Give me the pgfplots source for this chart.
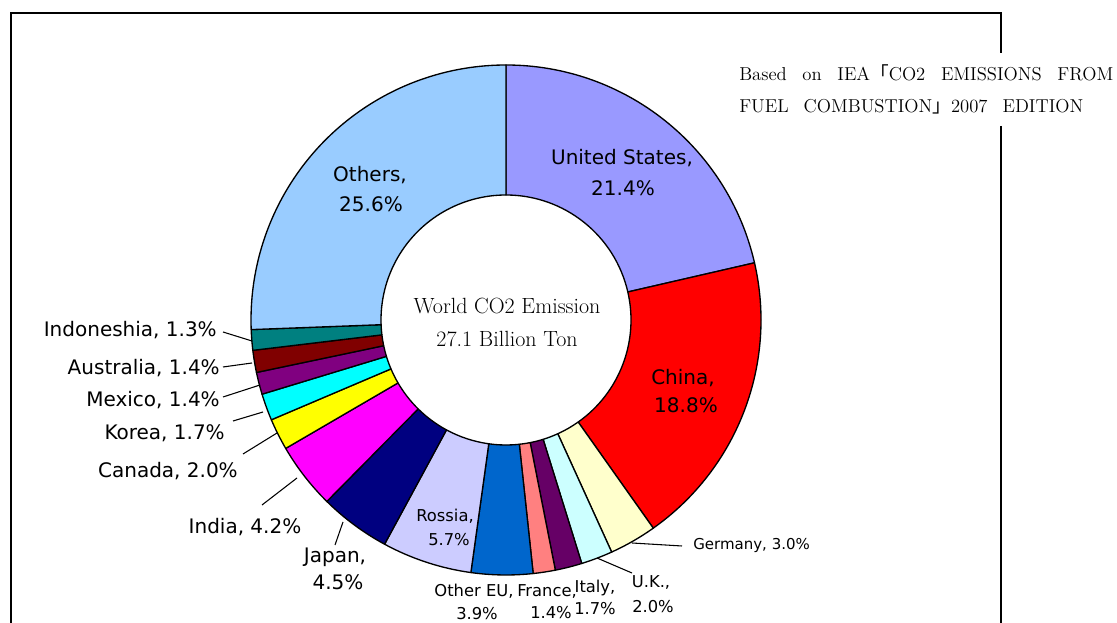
\documentclass[border=0pt]{standalone}
\usepackage{pgfplots}
\pgfplotsset{compat=1.18}
\usepackage{fontspec}
\newfontfamily\lab{DejaVu Sans}
\newfontfamily\cjk{Noto Sans CJK JP}
\definecolor{cUS}{HTML}{9999FF}
\definecolor{cCN}{HTML}{FF0000}
\definecolor{cDE}{HTML}{FFFFCC}
\definecolor{cUK}{HTML}{CCFFFF}
\definecolor{cIT}{HTML}{660066}
\definecolor{cFR}{HTML}{FF8080}
\definecolor{cEU}{HTML}{0066CC}
\definecolor{cRU}{HTML}{CCCCFF}
\definecolor{cJP}{HTML}{000080}
\definecolor{cIN}{HTML}{FF00FF}
\definecolor{cCA}{HTML}{FFFF00}
\definecolor{cKR}{HTML}{00FFFF}
\definecolor{cMX}{HTML}{800080}
\definecolor{cAU}{HTML}{800000}
\definecolor{cID}{HTML}{008080}
\definecolor{cOT}{HTML}{99CCFF}
\newcommand\Lf{\lab\fontsize{15pt}{18pt}\selectfont}
\newcommand\Rf{\lab\fontsize{12.25pt}{14pt}\selectfont}
\newcommand\Mf{\lab\fontsize{12.25pt}{14pt}\selectfont}
\newcommand\Sf{\lab\fontsize{11.25pt}{13pt}\selectfont}
\newcommand\Cf{\fontsize{16.5pt}{20pt}\selectfont}
\newcommand\Bf{\fontsize{14pt}{17pt}\selectfont}
\begin{document}
\begin{tikzpicture}
\useasboundingbox (0,0) rectangle (837.75pt,467.25pt);
\begin{axis}[at={(0,0)}, anchor=south west, scale only axis,
  width=837.75pt, height=467.25pt,
  xmin=0, xmax=1117, ymin=0, ymax=623,
  hide axis, clip=false]
% frame
\draw[line width=1.3pt] (axis cs:11,-5) -- (axis cs:11,610) -- (axis cs:1001,610) -- (axis cs:1001,570);
\draw[line width=1.3pt] (axis cs:1001,497) -- (axis cs:1001,-5);
% donut wedges (shares in percent, clockwise from top)
\gdef\cum{0}
\foreach \v/\c in {21.4/cUS,18.8/cCN,3.0/cDE,2.0/cUK,1.7/cIT,1.4/cFR,3.9/cEU,5.7/cRU,4.5/cJP,4.2/cIN,2.0/cCA,1.7/cKR,1.4/cMX,1.4/cAU,1.3/cID,25.6/cOT} {
  \pgfmathsetmacro\aone{90-3.6*\cum}
  \pgfmathsetmacro\atwo{90-3.6*(\cum+\v)}
  \pgfmathsetmacro\xo{506+255*cos(\aone)}
  \pgfmathsetmacro\yo{303+255*sin(\aone)}
  \pgfmathsetmacro\xin{506+125*cos(\atwo)}
  \pgfmathsetmacro\yin{303+125*sin(\atwo)}
  \edef\temp{\noexpand\filldraw[fill=\c,draw=black,line width=1pt,line join=round] (axis cs:\xo,\yo) arc[start angle=\aone,end angle=\atwo,radius=191.25pt] -- (axis cs:\xin,\yin) arc[start angle=\atwo,end angle=\aone,radius=93.75pt] -- cycle;}
  \temp
  \pgfmathsetmacro\newcum{\cum+\v}
  \global\let\cum\newcum
}
% centre text
\node[anchor=base, font=\Cf, inner sep=0] at (axis cs:507,309) {World CO2 Emission};
\node[anchor=base, font=\Cf, inner sep=0] at (axis cs:507,276) {27.1 Billion Ton};
% source text
\node[anchor=base west, font=\Bf, inner sep=0] at (axis cs:739,542) {\makebox[280.5pt][s]{Based on IEA{\cjk 「}CO2 EMISSIONS FROM}};
\node[anchor=base west, font=\Bf, inner sep=0] at (axis cs:739,510) {\makebox[258pt][s]{FUEL COMBUSTION{\cjk 」}2007 EDITION}};
% inside labels
\node[anchor=base, font=\Lf, inner sep=0] at (axis cs:622,458) {United States,};
\node[anchor=base, font=\Lf, inner sep=0] at (axis cs:623,427) {21.4\%};
\node[anchor=base, font=\Lf, inner sep=0] at (axis cs:683,238) {China,};
\node[anchor=base, font=\Lf, inner sep=0] at (axis cs:686,210) {18.8\%};
\node[anchor=base, font=\Lf, inner sep=0] at (axis cs:370,441) {Others,};
\node[anchor=base, font=\Lf, inner sep=0] at (axis cs:371,411) {25.6\%};
\node[anchor=base, font=\Rf, inner sep=0] at (axis cs:445,101) {Rossia,};
\node[anchor=base, font=\Rf, inner sep=0] at (axis cs:449,77) {5.7\%};
% bottom labels
\node[anchor=base, font=\Lf, inner sep=0] at (axis cs:335,60) {Japan,};
\node[anchor=base, font=\Lf, inner sep=0] at (axis cs:338,33) {4.5\%};
\draw[line width=0.8pt] (axis cs:343,101) -- (axis cs:335,78);
\node[anchor=base, font=\Mf, inner sep=0] at (axis cs:474,26) {Other EU,};
\node[anchor=base, font=\Mf, inner sep=0] at (axis cs:477,3) {3.9\%};
\node[anchor=base, font=\Mf, inner sep=0] at (axis cs:547,26) {France,};
\node[anchor=base, font=\Mf, inner sep=0] at (axis cs:551,4) {1.4\%};
\node[anchor=base, font=\Mf, inner sep=0] at (axis cs:595,30) {Italy,};
\node[anchor=base, font=\Mf, inner sep=0] at (axis cs:595,8) {1.7\%};
\node[anchor=base, font=\Mf, inner sep=0] at (axis cs:651,35) {U.K.,};
\node[anchor=base, font=\Mf, inner sep=0] at (axis cs:653,10) {2.0\%};
\draw[line width=0.8pt] (axis cs:597,65) -- (axis cs:632,50);
\node[anchor=base west, font=\Sf, inner sep=0] at (axis cs:693,73) {Germany, 3.0\%};
\draw[line width=0.8pt] (axis cs:632,80) -- (axis cs:682,77);
% left labels
\node[anchor=base, font=\Lf, inner sep=0] at (axis cs:245,89) {India, 4.2\%};
\draw[line width=0.8pt] (axis cs:297,145) -- (axis cs:262,118);
\node[anchor=base east, font=\Lf, inner sep=0] at (axis cs:238,145) {Canada, 2.0\%};
\draw[line width=0.8pt] (axis cs:277,190) -- (axis cs:243,169);
\node[anchor=base east, font=\Lf, inner sep=0] at (axis cs:225,183) {Korea, 1.7\%};
\draw[line width=0.8pt] (axis cs:263,211) -- (axis cs:233,202);
\node[anchor=base east, font=\Lf, inner sep=0] at (axis cs:220,216) {Mexico, 1.4\%};
\draw[line width=0.8pt] (axis cs:260,238) -- (axis cs:223,226);
\node[anchor=base east, font=\Lf, inner sep=0] at (axis cs:220,248) {Australia, 1.4\%};
\draw[line width=0.8pt] (axis cs:252,260) -- (axis cs:223,256);
\node[anchor=base east, font=\Lf, inner sep=0] at (axis cs:217,286) {Indoneshia, 1.3\%};
\draw[line width=0.8pt] (axis cs:252,282) -- (axis cs:223,291);
\end{axis}
\end{tikzpicture}
\end{document}
